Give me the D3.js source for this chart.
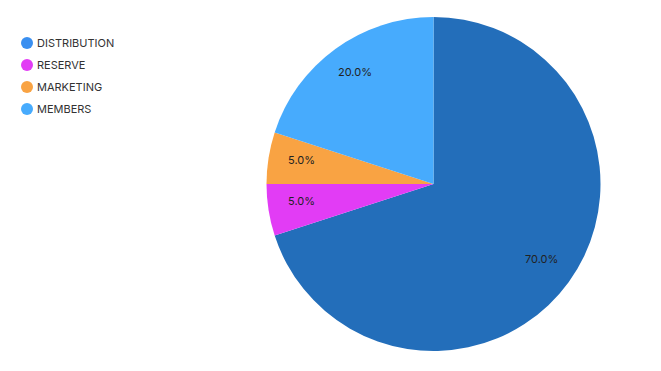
<!DOCTYPE html>
<html><head><meta charset="utf-8">
<script src="https://cdn.jsdelivr.net/npm/d3@7"></script>
<style>body{margin:0;background:#fff;}svg{display:block;font-family:Inter,"Open Sans",sans-serif;}</style>
</head><body><svg id="c" width="661" height="371"></svg>
<script>
const categories = ["DISTRIBUTION","RESERVE","MARKETING","MEMBERS"];
const values = [70,5,5,20];
const sliceColors = ["#236eba","#e23cf5","#f9a343","#47abfd"];
const legendColors = ["#3a8ff0","#e23cf5","#f9a343","#47abfd"];

const svg = d3.select("#c");
const cx = 433.5, cy = 184, R = 167;
const data = categories.map((c,i)=>({name:c,value:values[i],i}));
const pie = d3.pie().value(d=>d.value).sort(null);
const arcs = pie(data);
const arc = d3.arc().innerRadius(0).outerRadius(R);
const labelArc = d3.arc().innerRadius(R*0.8).outerRadius(R*0.8);
const g = svg.append("g").attr("transform",`translate(${cx},${cy})`);
g.selectAll("path").data(arcs).join("path")
  .attr("d",arc).attr("fill",d=>sliceColors[d.data.i]);
g.selectAll("text").data(arcs).join("text")
  .attr("transform",d=>{const [x,y]=labelArc.centroid(d);return `translate(${x},${y-3.5})`;})
  .attr("text-anchor","middle").attr("dominant-baseline","central")
  .attr("font-size",11).attr("fill","#222")
  .text(d=>d.data.value.toFixed(1)+"%");

const lg = svg.append("g");
const item = lg.selectAll("g").data(data).join("g")
  .attr("transform",(d,i)=>`translate(27,${43+i*22})`);
item.append("circle").attr("r",6).attr("fill",d=>legendColors[d.i]);
item.append("text").attr("x",10).attr("dominant-baseline","central")
  .attr("font-size",11).attr("fill","#333").text(d=>d.name);
</script></body></html>
